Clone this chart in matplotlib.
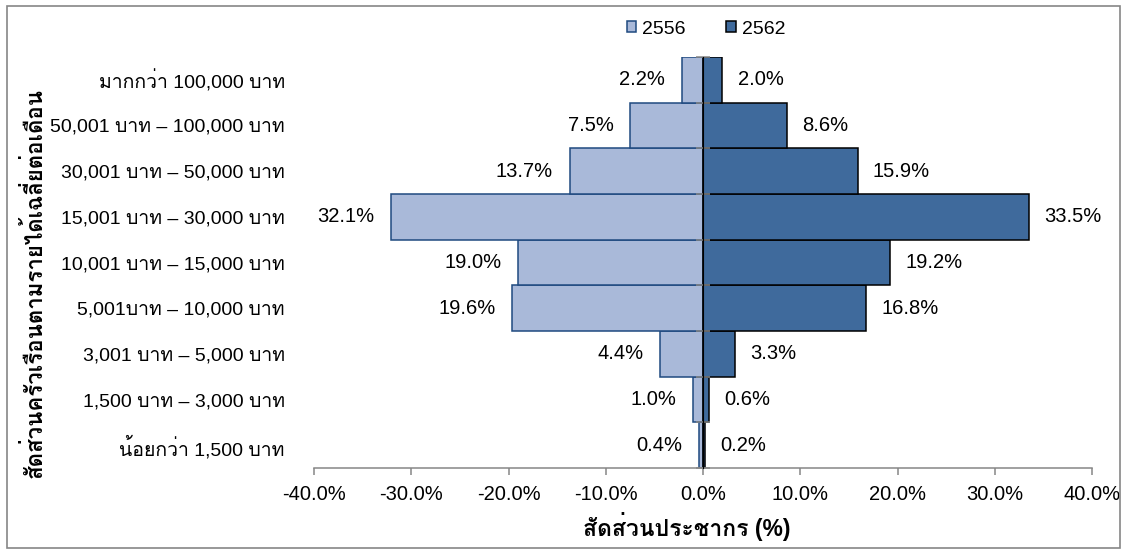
import numpy as np
import matplotlib
matplotlib.use('Agg')
import matplotlib.pyplot as plt
from matplotlib.patches import Rectangle
from matplotlib.ticker import FuncFormatter, NullFormatter

plt.rcParams['font.family'] = ['Liberation Sans', 'Loma', 'Noto Sans Thai Looped', 'DejaVu Sans']

# income groups, bottom to top
groups = ['น้อยกว่า 1,500 บาท', '1,500 บาท – 3,000 บาท', '3,001 บาท – 5,000 บาท',
	'5,001บาท – 10,000 บาท', '10,001 บาท – 15,000 บาท', '15,001 บาท – 30,000 บาท',
	'30,001 บาท – 50,000 บาท', '50,001 บาท – 100,000 บาท', 'มากกว่า 100,000 บาท']
share2556 = [0.4, 1.0, 4.4, 19.6, 19.0, 32.1, 13.7, 7.5, 2.2]
share2562 = [0.2, 0.6, 3.3, 16.8, 19.2, 33.5, 15.9, 8.6, 2.0]
years = ['2556', '2562']
xticks = [-40, -30, -20, -10, 0, 10, 20, 30, 40]

LIGHT = '#A9B9D9'
LIGHT_EDGE = '#1F4A80'
DARK = '#3F6A9C'
DARK_EDGE = '#000000'
GRAY = '#868686'
FS = 14.5


def drawBars(ax):
	'''
	Draws the two back-to-back bar series and their value labels.
	'''
	y = np.arange(len(groups))
	left = -np.array(share2556)
	right = np.array(share2562)
	b1 = ax.barh(y, left, height=1.0, color=LIGHT, edgecolor=LIGHT_EDGE, linewidth=1.1, label=years[0], zorder=2)
	b2 = ax.barh(y, right, height=1.0, color=DARK, edgecolor=DARK_EDGE, linewidth=1.1, label=years[1], zorder=2)

	for i in range(len(groups)):
		ax.annotate('{:.1f}%'.format(share2556[i]), (left[i], y[i]), xytext=(-12, 0),
			textcoords='offset points', ha='right', va='center', fontsize=FS)
		ax.annotate('{:.1f}%'.format(share2562[i]), (right[i], y[i]), xytext=(11, 0),
			textcoords='offset points', ha='left', va='center', fontsize=FS)
	return b1, b2


fig = plt.figure(figsize=(11.27, 5.52), dpi=100)
ax = fig.add_axes([0.2786, 0.152, 0.6904, 0.7448])

b1, b2 = drawBars(ax)

ax.set_xlim(-40, 40)
ax.set_ylim(-0.5, len(groups) - 0.5)
ax.set_xticks(xticks)
ax.xaxis.set_major_formatter(FuncFormatter(lambda v, p: '{:.1f}%'.format(v)))
ax.tick_params(axis='x', direction='out', length=5, width=1.1, color=GRAY, labelsize=FS, pad=7)

# category labels at the left edge
ax.set_yticks(np.arange(len(groups)))
ax.set_yticklabels(groups)
ax.tick_params(axis='y', which='major', length=0, labelsize=14, pad=21)

for s in ['top', 'right', 'left']:
	ax.spines[s].set_visible(False)
ax.spines['bottom'].set_color(GRAY)
ax.spines['bottom'].set_linewidth(1.1)

# zero axis in the middle with cross ticks at the group boundaries
mid = ax.secondary_yaxis(0.5)
mid.set_yticks(np.arange(len(groups) + 1) - 0.5)
mid.yaxis.set_major_formatter(NullFormatter())
mid.tick_params(axis='y', direction='inout', length=10, width=1.1, color=GRAY)
mid.spines['left'].set_color(GRAY)
mid.spines['left'].set_linewidth(1.5)
mid.set_zorder(4)

fig.text(0.609, 0.047, 'สัดส่วนประชากร (%)', ha='center', va='center', fontsize=16.5, fontweight='bold')
fig.text(0.031, 0.487, 'สัดส่วนครัวเรือนตามรายได้เฉลี่ยต่อเดือน', ha='center', va='center',
	rotation=90, fontsize=16, fontweight='bold')

fig.legend([b1, b2], years, loc='center', bbox_to_anchor=(0.6265, 0.947), ncol=2, frameon=False,
	fontsize=14, handlelength=0.5, handleheight=0.5, handletextpad=0.3, columnspacing=2.1)

# chart area border
fig.patches.append(Rectangle((0.006, 0.008), 0.988, 0.981, transform=fig.transFigure,
	fill=False, edgecolor=GRAY, linewidth=1.2))

fig.savefig('out.png', dpi=100)
